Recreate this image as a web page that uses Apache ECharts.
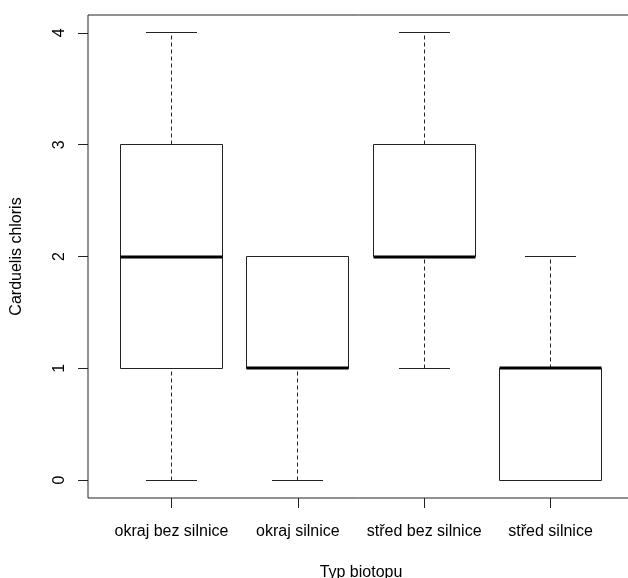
<!DOCTYPE html>
<html>
<head>
<meta charset="utf-8">
<script src="https://cdn.jsdelivr.net/npm/echarts@6/dist/echarts.min.js"></script>
<style>html,body{margin:0;padding:0;background:#fff}#c{width:628px;height:578px}</style>
</head>
<body>
<div id="c"></div>
<script>
const categories = ['okraj bez silnice', 'okraj silnice', 'střed bez silnice', 'střed silnice'];
const whiskerLow = [0, 0, 1, 0];
const q1 = [1, 1, 2, 0];
const median = [2, 1, 2, 1];
const q3 = [3, 2, 3, 1];
const whiskerHigh = [4, 2, 4, 2];
const yTicks = [0, 1, 2, 3, 4];
const xTicks = [1, 2, 3, 4];

const data = categories.map((c, i) => [i + 1, whiskerLow[i], q1[i], median[i], q3[i], whiskerHigh[i]]);
const LINE = '#222';
const crisp = v => Math.round(v - 0.5) + 0.5;

function renderItem(params, api) {
  const x = api.value(0);
  const lo = api.coord([x, api.value(1)]);
  const b1 = api.coord([x, api.value(2)]);
  const md = api.coord([x, api.value(3)]);
  const b3 = api.coord([x, api.value(4)]);
  const hi = api.coord([x, api.value(5)]);
  const boxW = api.size([0.8, 0])[0];
  const capW = api.size([0.4, 0])[0];
  const cx = crisp(lo[0]);
  const children = [];
  const ln = (x1, y1, x2, y2, style) => children.push({type: 'line', shape: {x1, y1, x2, y2}, style: Object.assign({stroke: LINE, lineWidth: 1}, style || {})});
  if (b1[1] < lo[1] - 0.5) ln(cx, crisp(lo[1]), cx, crisp(b1[1]), {lineDash: [4, 3]});
  if (b3[1] > hi[1] + 0.5) ln(cx, crisp(b3[1]), cx, crisp(hi[1]), {lineDash: [4, 3]});
  ln(Math.round(cx - capW / 2), crisp(lo[1]), Math.round(cx + capW / 2), crisp(lo[1]));
  ln(Math.round(cx - capW / 2), crisp(hi[1]), Math.round(cx + capW / 2), crisp(hi[1]));
  const left = crisp(cx - boxW / 2), right = crisp(cx + boxW / 2);
  children.push({type: 'rect', shape: {x: left, y: crisp(b3[1]), width: right - left, height: crisp(b1[1]) - crisp(b3[1])},
    style: {fill: 'none', stroke: LINE, lineWidth: 1}});
  ln(left, Math.round(md[1]), right, Math.round(md[1]), {stroke: '#000', lineWidth: 3});
  return {type: 'group', children};
}

const FONT = 'Liberation Sans';
const chart = echarts.init(document.getElementById('c'), null, {renderer: 'canvas'});
chart.setOption({
  animation: false,
  backgroundColor: '#fff',
  textStyle: {fontFamily: FONT},
  grid: {left: 88, top: 15, width: 546, height: 483, show: true, borderColor: LINE, borderWidth: 1,
    backgroundColor: 'transparent', containLabel: false, outerBoundsMode: 'none'},
  xAxis: {
    type: 'value', min: 0.34, max: 4.66,
    name: 'Typ biotopu', nameLocation: 'middle', nameGap: 67,
    nameTextStyle: {fontSize: 16, color: '#000', fontFamily: FONT},
    axisLine: {show: false, onZero: false},
    splitLine: {show: false},
    axisTick: {show: true, length: 10, customValues: xTicks, lineStyle: {color: LINE}},
    axisLabel: {customValues: xTicks, margin: 26, fontSize: 16, color: '#000', fontFamily: FONT,
      formatter: v => categories[Math.round(v) - 1] || ''}
  },
  yAxis: {
    type: 'value', min: -0.16, max: 4.16,
    name: 'Carduelis chloris', nameLocation: 'middle', nameGap: 63, nameRotate: 90,
    nameTextStyle: {fontSize: 16, color: '#000', fontFamily: FONT},
    axisLine: {show: false, onZero: false},
    splitLine: {show: false},
    axisTick: {show: true, length: 10, customValues: yTicks, lineStyle: {color: LINE}},
    axisLabel: {customValues: yTicks, rotate: 90, margin: 20, fontSize: 16, color: '#000', fontFamily: FONT,
      formatter: v => String(Math.round(v))}
  },
  series: [{
    type: 'custom',
    renderItem: renderItem,
    data: data,
    encode: {x: 0, y: [1, 2, 3, 4, 5]},
    clip: false
  }]
});
</script>
</body>
</html>
